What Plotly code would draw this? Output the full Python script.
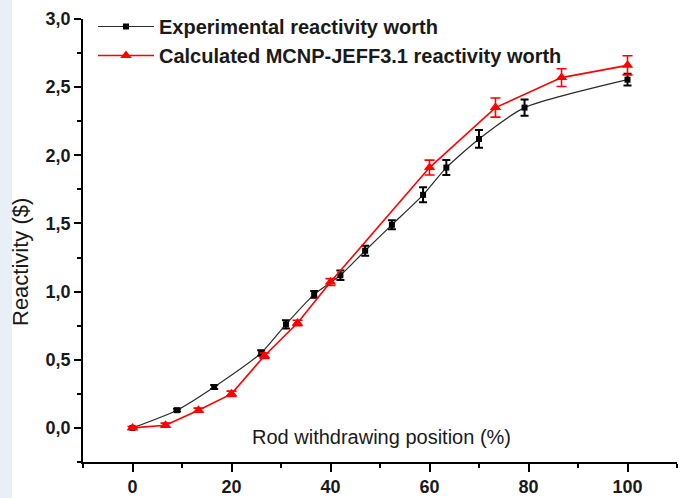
import plotly.graph_objects as go

# Experimental reactivity worth
exp_x = [0, 9, 16.5, 26, 31, 36.7, 42, 47, 52.4, 58.7, 63.4, 70, 79.2, 100]
exp_y = [0.0, 0.13, 0.30, 0.55, 0.76, 0.98, 1.12, 1.30, 1.49, 1.71, 1.91, 2.12, 2.35, 2.555]
exp_err = [0.0, 0.01, 0.015, 0.02, 0.03, 0.025, 0.035, 0.037, 0.033, 0.055, 0.055, 0.065, 0.06, 0.043]

# Calculated MCNP-JEFF3.1 reactivity worth
calc_x = [0, 6.67, 13.33, 20, 26.67, 33.33, 40, 60, 73.33, 86.67, 100]
calc_y = [0.0, 0.02, 0.13, 0.25, 0.53, 0.77, 1.07, 1.91, 2.35, 2.57, 2.66]
calc_err = [0.01, 0.015, 0.015, 0.02, 0.02, 0.02, 0.025, 0.055, 0.07, 0.065, 0.07]

x_ticks = [0, 20, 40, 60, 80, 100]
y_ticks = [0.0, 0.5, 1.0, 1.5, 2.0, 2.5, 3.0]

FONT = "Liberation Sans"
TXT = "#1a1a1a"

fig = go.Figure()
fig.add_trace(go.Scatter(
    x=exp_x, y=exp_y, mode="lines+markers",
    name="Experimental reactivity worth",
    line=dict(color="#2a2a2a", width=1.2, shape="spline", smoothing=0.6),
    marker=dict(symbol="square", size=6, color="black"),
    error_y=dict(type="data", array=exp_err, visible=True, color="black", thickness=2, width=4),
))
fig.add_trace(go.Scatter(
    x=calc_x, y=calc_y, mode="lines+markers",
    name="Calculated MCNP-JEFF3.1 reactivity worth",
    line=dict(color="red", width=1.6),
    marker=dict(symbol="triangle-up", size=10, color="red"),
    error_y=dict(type="data", array=calc_err, visible=True, color="red", thickness=1.6, width=5),
))

W, H = 683, 498
ml, mr, mt, mb = 83, 6, 0, 36
plot_top = 19  # pixel row of the top of the y axis
pw, ph = W - ml - mr, H - mt - mb          # paper area in pixels
dom_top = (ph - plot_top) / ph              # y-axis domain top

def px_x(p):
    return (p - ml) / pw

def px_y(p):
    return (H - mb - p) / ph

fig.update_layout(
    width=W, height=H,
    margin=dict(l=ml, r=mr, t=mt, b=mb, pad=0, autoexpand=False),
    paper_bgcolor="white", plot_bgcolor="white",
    separators=",.",
    font=dict(family=FONT, color=TXT),
    showlegend=True,
    legend=dict(
        x=px_x(93), y=px_y(7), xanchor="left", yanchor="top",
        bgcolor="rgba(0,0,0,0)", borderwidth=0,
        font=dict(family=FONT, size=20, color=TXT, weight="bold"),
        itemwidth=56, tracegroupgap=0,
    ),
    xaxis=dict(
        range=[-10, 110], tickvals=x_ticks, ticktext=[str(v) for v in x_ticks],
        automargin=False,
        showgrid=False, zeroline=False, showline=True, linecolor="black", linewidth=1.6,
        ticks="outside", ticklen=8, tickwidth=1.6, tickcolor="black",
        minor=dict(dtick=10, tick0=0, ticks="outside", ticklen=4, tickwidth=1.6, tickcolor="black", showgrid=False),
        tickfont=dict(family=FONT, size=18, color=TXT, weight="bold"),
        mirror=False,
    ),
    yaxis=dict(
        domain=[0, dom_top],
        range=[-0.25, 3.0], tickvals=y_ticks, tickformat=".1f",
        automargin=False,
        showgrid=False, zeroline=False, showline=True, linecolor="black", linewidth=1.6,
        ticks="outside", ticklen=7, tickwidth=1.6, tickcolor="black",
        minor=dict(dtick=0.25, tick0=0, ticks="outside", ticklen=4, tickwidth=1.6, tickcolor="black", showgrid=False),
        tickfont=dict(family=FONT, size=18, color=TXT, weight="bold"),
        mirror=False,
    ),
    annotations=[
        dict(text="Reactivity ($)", xref="paper", yref="paper",
             x=px_x(20), y=px_y(262), textangle=-90,
             showarrow=False, xanchor="center", yanchor="middle",
             font=dict(family=FONT, size=22, color=TXT)),
        dict(text="Rod withdrawing position (%)", xref="paper", yref="paper",
             x=px_x(381), y=px_y(437),
             showarrow=False, xanchor="center", yanchor="middle",
             font=dict(family=FONT, size=20, color=TXT)),
    ],
    shapes=[
        dict(type="rect", xref="paper", yref="paper", layer="below",
             x0=px_x(0), x1=px_x(12), y0=px_y(H), y1=px_y(0),
             fillcolor="#e8eff7", line=dict(width=0)),
    ],
)

fig.write_html("out.html", config={"displayModeBar": False},
               post_script="document.body.style.margin='0';")
